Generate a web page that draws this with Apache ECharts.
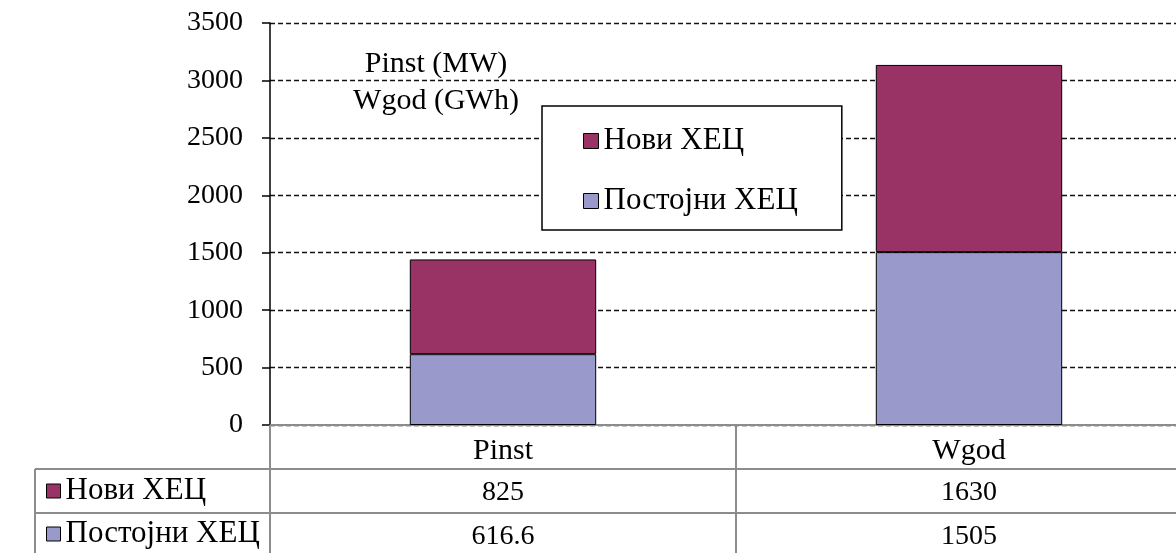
<!DOCTYPE html>
<html>
<head>
<meta charset="utf-8">
<title>Pinst / Wgod — ХЕЦ</title>
<script src="https://cdn.jsdelivr.net/npm/echarts@6/dist/echarts.min.js"></script>
<style>
  html, body { margin: 0; padding: 0; background: #ffffff; }
  #chart { width: 1176px; height: 553px; }
</style>
</head>
<body>
<div id="chart"></div>
<script>
// Categories and series values
const categories = ['Pinst', 'Wgod'];
const postojni = [616.6, 1505];   // Постојни ХЕЦ
const novi = [825, 1630];         // Нови ХЕЦ
const seriesNames = ['Нови ХЕЦ', 'Постојни ХЕЦ'];
const unitLines = ['Pinst (MW)', 'Wgod (GWh)'];
const yTicks = { min: 0, max: 3500, interval: 500 };

const FONT = '"Liberation Serif", "Times New Roman", serif';
const COLOR_NOVI = '#993366';
const COLOR_POSTOJNI = '#9999cc';
const TABLE_LINE = '#8c8c8c';

// Plot area geometry (the second category column runs past the right edge)
const W = 1176, H = 553;
const gridLeft = 270, gridTop = 23, gridWidth = 932, gridBottom = 128;
const axisY = H - gridBottom;      // y of the category axis
const rowH = 44;                   // data table row height
const tableLeft = 35;

const chart = echarts.init(document.getElementById('chart'), null, { renderer: 'canvas' });

const valueRows = [novi, postojni];

const xAxes = [{
  type: 'category',
  data: categories,
  gridIndex: 0,
  position: 'bottom',
  axisLine: { show: true, lineStyle: { color: TABLE_LINE, width: 2 } },
  axisTick: { show: true, alignWithLabel: false, length: rowH * 3 + 2, lineStyle: { color: TABLE_LINE, width: 2 } },
  axisLabel: { color: '#000', fontFamily: FONT, fontSize: 30, margin: 11 }
}];
valueRows.forEach((row, r) => {
  xAxes.push({
    type: 'category',
    data: categories,
    gridIndex: 0,
    position: 'bottom',
    offset: rowH * (r + 1),
    axisLine: { show: false },
    axisTick: { show: false },
    axisLabel: {
      color: '#000', fontFamily: FONT, fontSize: 28, margin: 10,
      formatter: (v, i) => String(row[i])
    }
  });
});

const option = {
  backgroundColor: '#ffffff',
  animation: false,
  grid: {
    left: gridLeft, top: gridTop, width: gridWidth, bottom: gridBottom,
    outerBoundsMode: 'none', containLabel: false
  },
  xAxis: xAxes,
  yAxis: {
    type: 'value',
    min: yTicks.min, max: yTicks.max, interval: yTicks.interval,
    axisLine: { show: true, lineStyle: { color: '#000', width: 1.5 } },
    axisTick: { show: true, length: 8, lineStyle: { color: '#000', width: 1.5 } },
    axisLabel: { color: '#000', fontFamily: FONT, fontSize: 28, margin: 27, formatter: v => String(v) },
    splitLine: { show: true, lineStyle: { color: '#111', width: 1.3, type: [5, 3] } }
  },
  legend: [{
    data: seriesNames,
    orient: 'vertical',
    left: 542, top: 106,
    padding: [18, 44, 12, 41],
    itemGap: 26,
    itemWidth: 15, itemHeight: 15,
    itemTextGap: 5,
    icon: 'rect',
    backgroundColor: '#ffffff',
    borderColor: '#000', borderWidth: 1.5,
    textStyle: { color: '#000', fontFamily: FONT, fontSize: 31, lineHeight: 34 },
    itemStyle: { borderColor: '#000', borderWidth: 1 }
  }, {
    data: seriesNames,
    orient: 'vertical',
    left: 46, top: axisY + rowH + 5,
    padding: 0,
    itemGap: rowH - 35,
    itemWidth: 14, itemHeight: 14,
    itemTextGap: 3,
    icon: 'rect',
    textStyle: { color: '#000', fontFamily: FONT, fontSize: 31, lineHeight: 34 },
    itemStyle: { borderColor: '#000', borderWidth: 1 }
  }],
  graphic: [
    // unit captions
    { type: 'text', x: 436, y: 64, z: 10,
      style: { text: unitLines[0], font: '30px ' + FONT, fill: '#000', textAlign: 'center', textVerticalAlign: 'middle' } },
    { type: 'text', x: 436, y: 101, z: 10,
      style: { text: unitLines[1], font: '30px ' + FONT, fill: '#000', textAlign: 'center', textVerticalAlign: 'middle' } },
    // data table borders
    ...[1, 2].map(k => ({
      type: 'line', z: 5,
      shape: { x1: tableLeft, y1: axisY + rowH * k, x2: W, y2: axisY + rowH * k },
      style: { stroke: TABLE_LINE, lineWidth: 2 }
    })),
    { type: 'line', z: 5,
      shape: { x1: tableLeft, y1: axisY + rowH, x2: tableLeft, y2: H },
      style: { stroke: TABLE_LINE, lineWidth: 2 } }
  ],
  series: [{
    name: 'Постојни ХЕЦ',
    type: 'bar',
    stack: 'total',
    barWidth: '40%',
    xAxisIndex: 0,
    data: postojni,
    itemStyle: { color: COLOR_POSTOJNI, borderColor: '#000', borderWidth: 1 }
  }, {
    name: 'Нови ХЕЦ',
    type: 'bar',
    stack: 'total',
    barWidth: '40%',
    xAxisIndex: 0,
    data: novi,
    itemStyle: { color: COLOR_NOVI, borderColor: '#000', borderWidth: 1 }
  }]
};

chart.setOption(option);
</script>
</body>
</html>
